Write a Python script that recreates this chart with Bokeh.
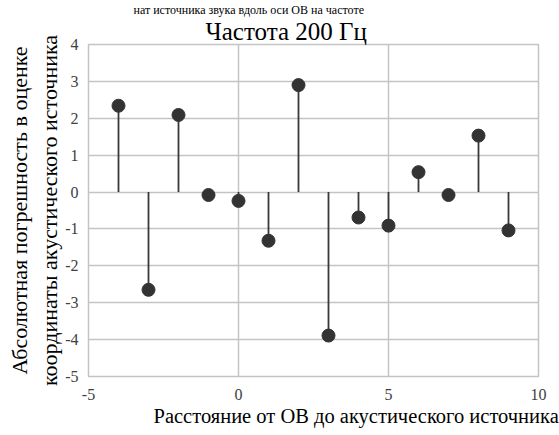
from bokeh.plotting import figure
from bokeh.models import Range1d, FixedTicker, Title
from bokeh.embed import file_html
from bokeh.resources import INLINE

x_vals = [-4, -3, -2, -1, 0, 1, 2, 3, 4, 5, 6, 7, 8, 9]
err_vals = [2.34, -2.65, 2.09, -0.08, -0.24, -1.32, 2.9, -3.89, -0.69, -0.91, 0.54, -0.08, 1.53, -1.04]
x_ticks = [-5, 0, 5, 10]
y_ticks = [-5, -4, -3, -2, -1, 0, 1, 2, 3, 4]
title_text = "Частота 200 Гц"
top_line_text = "нат источника звука вдоль оси ОВ на частоте"
x_label_text = "Расстояние от ОВ до акустического источника"
y_label_text = "Абсолютная погрешность в оценке\nкоординаты акустического источника"

FONT = "Liberation Serif"
W, H = 559, 435
L, R, T, B = 88, 21, 44, 59

p = figure(width=W, height=H, output_backend="svg", toolbar_location=None,
           title_location=None,
           x_range=Range1d(-5, 10), y_range=Range1d(-5, 4),
           min_border_left=L, min_border_right=R, min_border_top=T, min_border_bottom=B)

p.outline_line_color = "#c4c4c4"
p.outline_line_width = 1.5
p.background_fill_color = "white"
p.border_fill_color = "white"

for ax in (p.xaxis, p.yaxis):
    ax.axis_line_color = None
    ax.major_tick_line_color = None
    ax.minor_tick_line_color = None
    ax.major_label_text_font = FONT
    ax.major_label_text_font_size = "16px"
    ax.major_label_text_color = "#404040"
    ax.axis_label_text_font = FONT
    ax.axis_label_text_font_style = "normal"
    ax.axis_label_text_color = "#000000"

p.xaxis.ticker = FixedTicker(ticks=x_ticks)
p.yaxis.ticker = FixedTicker(ticks=y_ticks)
p.xaxis.major_label_overrides = {t: str(t) for t in x_ticks}
p.yaxis.major_label_overrides = {t: str(t) for t in y_ticks}
p.xaxis.major_label_standoff = 6
p.yaxis.major_label_standoff = 4
p.yaxis.axis_label = y_label_text
p.yaxis.axis_label_text_font_size = "22px"
p.yaxis.axis_label_standoff = 0

p.xgrid.ticker = FixedTicker(ticks=x_ticks)
p.ygrid.ticker = FixedTicker(ticks=y_ticks)
p.grid.grid_line_color = "#c4c4c4"
p.grid.grid_line_width = 1.5

p.segment(x0=x_vals, y0=[0] * len(x_vals), x1=x_vals, y1=err_vals,
          line_color="#3a3a3a", line_width=1.8)
p.scatter(x=x_vals, y=err_vals, size=13, fill_color="#333333", line_color="#333333")


def make_title(text, size, offset, standoff):
    return Title(text=text, align="left", offset=offset, standoff=standoff,
                 text_font=FONT, text_font_size=size, text_font_style="normal",
                 text_color="#000000")


p.add_layout(make_title(title_text, "25px", 117, -1), "above")
p.add_layout(make_title(top_line_text, "12px", 45, 0), "above")
p.add_layout(make_title(x_label_text, "20.5px", 65, 0), "below")

open("out.html", "w").write(file_html(p, INLINE))
